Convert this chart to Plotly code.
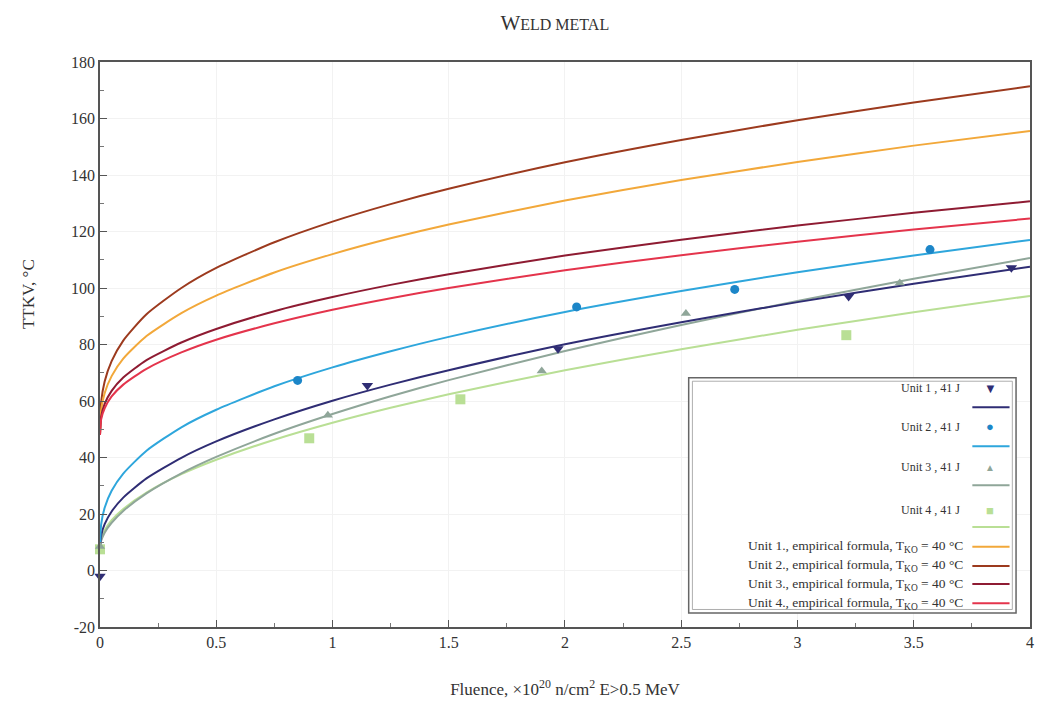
import plotly.graph_objects as go

# ---------------- data ----------------
# measured points (Fluence x1e20 n/cm2, TTKV degC)
u1_x = [0.0, 1.15, 1.97, 3.22, 3.92]
u1_y = [-2.0, 65.5, 78.5, 97.0, 107.2]
u2_x = [0.85, 2.05, 2.73, 3.57]
u2_y = [67.3, 93.3, 99.5, 113.6]
u3_x = [0.0, 0.98, 1.90, 2.52, 3.44]
u3_y = [8.5, 55.0, 70.6, 91.0, 101.8]
u4_x = [0.0, 0.90, 1.55, 3.21]
u4_y = [7.5, 46.8, 60.6, 83.3]

# fitted / empirical curves read along a common fluence grid
grid = [0, 0.005, 0.02, 0.05, 0.1, 0.2, 0.35, 0.5, 0.75, 1, 1.25, 1.5, 2, 2.5, 3, 3.5, 4]
fit1 = [8.0, 12.4, 16.4, 20.9, 25.8, 32.6, 39.9, 45.7, 53.5, 60.1, 65.8, 70.9, 80.1, 87.9, 95.0, 101.5, 107.5]
fit2 = [8.0, 16.3, 22.2, 28.2, 34.3, 42.4, 50.7, 56.9, 65.2, 71.9, 77.6, 82.7, 91.5, 98.9, 105.6, 111.5, 117.0]
fit3 = [8.0, 10.5, 13.4, 16.9, 21.1, 27.3, 34.4, 40.2, 48.4, 55.4, 61.7, 67.4, 77.7, 86.9, 95.4, 103.3, 110.6]
fit4 = [8.0, 11.1, 14.2, 17.8, 21.8, 27.6, 34.1, 39.2, 46.3, 52.3, 57.6, 62.4, 70.9, 78.3, 85.2, 91.4, 97.2]
emp1 = [48.0, 56.8, 62.8, 68.8, 75.0, 83.0, 91.1, 97.3, 105.5, 112.0, 117.6, 122.5, 131.0, 138.2, 144.6, 150.4, 155.6]
emp2 = [48.0, 59.6, 66.9, 74.1, 81.4, 90.7, 100.0, 107.1, 116.2, 123.5, 129.7, 135.1, 144.5, 152.4, 159.4, 165.7, 171.4]
emp3 = [48.0, 54.5, 59.0, 63.6, 68.3, 74.5, 80.7, 85.5, 91.8, 96.8, 101.1, 104.9, 111.5, 117.1, 122.1, 126.6, 130.7]
emp4 = [48.0, 53.5, 57.4, 61.6, 65.8, 71.4, 77.2, 81.7, 87.5, 92.3, 96.4, 100.0, 106.3, 111.6, 116.4, 120.7, 124.6]

x_ticks = [0, 0.5, 1, 1.5, 2, 2.5, 3, 3.5, 4]
x_tick_text = ["0", "0.5", "1", "1.5", "2", "2.5", "3", "3.5", "4"]
y_ticks = [-20, 0, 20, 40, 60, 80, 100, 120, 140, 160, 180]
y_tick_text = ["-20", "0", "20", "40", "60", "80", "100", "120", "140", "160", "180"]

unit_labels = ["Unit 1 , 41 J", "Unit 2 , 41 J", "Unit 3 , 41 J", "Unit 4 , 41 J"]
emp_labels = ["Unit 1., empirical formula, T<sub>KO</sub> = 40 °C",
              "Unit 2., empirical formula, T<sub>KO</sub> = 40 °C",
              "Unit 3., empirical formula, T<sub>KO</sub> = 40 °C",
              "Unit 4., empirical formula, T<sub>KO</sub> = 40 °C"]

# ---------------- styles ----------------
c_u1, c_u2, c_u3, c_u4 = "#2F2D74", "#1C86C8", "#8FA699", "#B9DF95"
c_fit2 = "#2EA6DC"
c_e1, c_e2, c_e3, c_e4 = "#F2A83A", "#9C3A1E", "#8E1B32", "#E4344C"
serif = "Liberation Serif, Times New Roman, serif"

fig = go.Figure()

def line(xv, yv, color, name):
    fig.add_trace(go.Scatter(x=xv, y=yv, mode="lines", name=name,
                             line=dict(color=color, width=2, shape="spline", smoothing=0.6),
                             showlegend=False, hoverinfo="skip"))

line(grid, emp2, c_e2, "emp2")
line(grid, emp1, c_e1, "emp1")
line(grid, emp3, c_e3, "emp3")
line(grid, emp4, c_e4, "emp4")
line(grid, fit4, c_u4, "fit4")
line(grid, fit3, c_u3, "fit3")
line(grid, fit1, c_u1, "fit1")
line(grid, fit2, c_fit2, "fit2")

def pts(xv, yv, color, symbol, size, name):
    fig.add_trace(go.Scatter(x=xv, y=yv, mode="markers", name=name,
                             marker=dict(color=color, symbol=symbol, size=size),
                             cliponaxis=False, showlegend=False))

pts(u4_x, u4_y, c_u4, "square", 10, unit_labels[3])
pts(u3_x, u3_y, c_u3, "triangle-up", 9, unit_labels[2])
pts(u2_x, u2_y, c_u2, "circle", 9, unit_labels[1])
pts(u1_x, u1_y, c_u1, "triangle-down", 10, unit_labels[0])

# ---------------- manual legend (symbol on the right, as in the original) ----------------
shapes = []
annotations = []
box = dict(x0=0.633, x1=0.985, y0=0.025, y1=0.441)
shapes.append(dict(type="rect", xref="paper", yref="paper", **box,
                   line=dict(color="#666666", width=1.5), fillcolor="white", layer="above"))
shapes.append(dict(type="rect", xref="paper", yref="paper",
                   x0=box["x0"] + 0.004, x1=box["x1"] - 0.004, y0=box["y0"] + 0.006, y1=box["y1"] - 0.006,
                   line=dict(color="#999999", width=0.8), layer="above"))

tx, sx, lx0, lx1 = 0.927, 0.957, 0.938, 0.978
unit_rows = [(0.423, 0.389), (0.354, 0.320), (0.283, 0.251), (0.207, 0.177)]
unit_syms = [("▼", c_u1, 13), ("●", c_u2, 13), ("▲", c_u3, 10), ("■", c_u4, 13)]
unit_line_cols = [c_u1, c_fit2, c_u3, c_u4]
for (ty, ly), lab, (sym, col, ss), lc in zip(unit_rows, unit_labels, unit_syms, unit_line_cols):
    annotations.append(dict(x=tx, y=ty, xref="paper", yref="paper", text=lab, showarrow=False,
                            xanchor="right", yanchor="middle", font=dict(family=serif, size=12, color="#333")))
    annotations.append(dict(x=sx, y=ty, xref="paper", yref="paper", text=sym, showarrow=False,
                            xanchor="center", yanchor="middle", font=dict(size=ss, color=col)))
    shapes.append(dict(type="line", xref="paper", yref="paper", x0=lx0, x1=lx1, y0=ly, y1=ly,
                       line=dict(color=lc, width=2), layer="above"))

emp_rows = [0.142, 0.108, 0.076, 0.042]
for ty, lab, col in zip(emp_rows, emp_labels, [c_e1, c_e2, c_e3, c_e4]):
    annotations.append(dict(x=tx + 0.003, y=ty, xref="paper", yref="paper", text=lab, showarrow=False,
                            xanchor="right", yanchor="middle", font=dict(family=serif, size=13.5, color="#333")))
    shapes.append(dict(type="line", xref="paper", yref="paper", x0=lx0, x1=lx1, y0=ty, y1=ty,
                       line=dict(color=col, width=2), layer="above"))

# y axis title placed as in the original (slightly above centre)
annotations.append(dict(x=-0.077, y=0.59, xref="paper", yref="paper", text="TTKV, °C", showarrow=False,
                        textangle=-90, xanchor="center", yanchor="middle",
                        font=dict(family=serif, size=17, color="#333")))

fig.update_layout(
    width=1037, height=706,
    margin=dict(l=100, r=7, t=62, b=79, autoexpand=False),
    paper_bgcolor="white", plot_bgcolor="white",
    title=dict(text="<span style='font-size:21px'>W</span>ELD METAL", x=0.535, xanchor="center",
               y=0.966, yanchor="middle", font=dict(family=serif, size=16, color="#333")),
    font=dict(family=serif, size=16, color="#333"),
    showlegend=False,
    shapes=shapes,
    annotations=annotations,
    xaxis=dict(range=[0, 4.0001], tickvals=x_ticks, ticktext=x_tick_text, automargin=False,
               showgrid=True, gridcolor="#F2F2F2", gridwidth=1,
               zeroline=False, showline=True, linecolor="#555", linewidth=1.5, mirror=True,
               ticks="inside", ticklen=7, tickcolor="#555",
               minor=dict(dtick=0.25, ticks="inside", ticklen=4, tickcolor="#777", showgrid=False),
               tickfont=dict(family=serif, size=16, color="#333"),
               title=dict(text="Fluence, ×10<sup>20</sup> n/cm<sup>2</sup> E>0.5 MeV",
                          font=dict(family=serif, size=17, color="#333"), standoff=33)),
    yaxis=dict(range=[-20, 180], tickvals=y_ticks, ticktext=y_tick_text, automargin=False,
               showgrid=True, gridcolor="#F2F2F2", gridwidth=1,
               zeroline=False, showline=True, linecolor="#555", linewidth=1.5, mirror=True,
               ticks="inside", ticklen=7, tickcolor="#555",
               minor=dict(dtick=10, ticks="inside", ticklen=4, tickcolor="#777", showgrid=False),
               tickfont=dict(family=serif, size=16, color="#333")),
)

fig.write_html("out.html", config={"displayModeBar": False},
               post_script="document.body.style.margin='0';document.body.style.overflow='hidden';")
